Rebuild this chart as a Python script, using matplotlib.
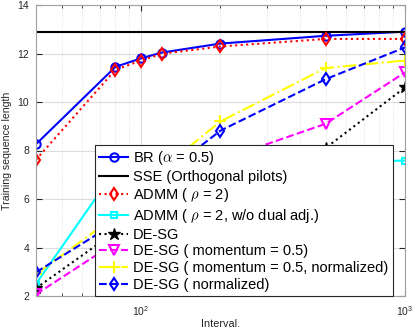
import matplotlib

matplotlib.use("Agg")
import matplotlib.pyplot as plt
from matplotlib.ticker import LogLocator, NullFormatter

plt.rcParams["font.family"] = ["Liberation Sans", "DejaVu Sans"]
plt.rcParams["mathtext.fontset"] = "cm"

# data
intervals = [40, 80, 100, 120, 200, 500, 1000]
br = [8.26, 11.45, 11.8, 12.04, 12.41, 12.73, 12.9]
sse = [12.9, 12.9, 12.9, 12.9, 12.9, 12.9, 12.9]
admm = [7.62, 11.33, 11.71, 11.99, 12.29, 12.6, 12.6]
admm_nodual = [2.5, 7.2, 7.35, 7.42, 7.5, 7.55, 7.58]
desg = [2.32, 4.65, 5.1, 5.5, 6.5, 8.1, 10.6]
desg_mom = [2.07, 4.2, 4.9, 5.6, 7.6, 9.1, 11.22]
desg_mom_norm = [2.9, 5.29, 6.3, 7.24, 9.2, 11.4, 11.71]
desg_norm = [2.98, 5.01, 6.0, 6.95, 8.82, 10.94, 12.25]

fig = plt.figure(figsize=(4.15, 3.33), dpi=100)
ax = fig.add_axes([36 / 415, 1 - 296 / 333, 369 / 415, 291 / 333])

lw = 1.5
ms = 6
ax.plot(intervals, br, "-o", color="#0000ff", lw=lw, ms=ms, mfc="none", mew=1.5,
        label=r"BR ($\alpha$ = 0.5)")
ax.plot(intervals, sse, "-", color="black", lw=lw, label="SSE (Orthogonal pilots)")
ax.plot(intervals, admm, ":d", color="#ff0000", lw=lw, ms=ms, mfc="none", mew=1.5,
        label=r"ADMM ( $\rho$ = 2)")
ax.plot(intervals, admm_nodual, "-s", color="#00ffff", lw=lw, ms=ms - 1, mfc="none", mew=1.5,
        label=r"ADMM ( $\rho$ = 2, w/o dual adj.)")
ax.plot(intervals, desg, ":*", color="black", lw=lw, ms=ms + 3, label="DE-SG")
ax.plot(intervals, desg_mom, "--v", color="#ff00ff", lw=lw, ms=ms + 1, mfc="none", mew=1.5,
        label="DE-SG ( momentum = 0.5)")
ax.plot(intervals, desg_mom_norm, "-.+", color="#ffff00", lw=lw, ms=ms + 2, mew=1.5,
        label="DE-SG ( momentum = 0.5, normalized)")
ax.plot(intervals, desg_norm, "--d", color="#0000ff", lw=lw, ms=ms, mfc="none", mew=1.5,
        label="DE-SG ( normalized)")

ax.set_xscale("log")
ax.set_xlim(40, 1000)
ax.set_ylim(2, 14)
ax.set_yticks([2, 4, 6, 8, 10, 12, 14])
ax.xaxis.set_minor_locator(LogLocator(base=10, subs=range(2, 10)))
ax.xaxis.set_minor_formatter(NullFormatter())

ax.grid(True, which="major", color="#dcdcdc", lw=0.8)
ax.grid(True, which="minor", axis="x", color="#dcdcdc", lw=0.6, ls=":")
ax.set_axisbelow(True)
for sp in ax.spines.values():
    sp.set_color("#a0a0a0")
ax.tick_params(which="both", direction="in", colors="#262626", labelsize=7.5,
               top=True, right=True)
ax.tick_params(which="major", length=4)
ax.tick_params(which="minor", length=2)
ax.tick_params(axis="x", which="major", pad=6)
ax.tick_params(axis="y", which="major", pad=5)

ax.set_xlabel("Interval.", fontsize=7.8, color="#262626", labelpad=0.5)
ax.set_ylabel("Training sequence length", fontsize=7.6, color="#262626", labelpad=4)

leg = ax.legend(loc="lower right", bbox_to_anchor=(0.967, 0.0), borderaxespad=0,
                fontsize=10.5, fancybox=False, framealpha=1, edgecolor="#262626",
                labelspacing=0.18, handlelength=2.0, handletextpad=0.35,
                borderpad=0.3)
leg.get_frame().set_linewidth(0.8)

fig.savefig("out.png", dpi=100)
